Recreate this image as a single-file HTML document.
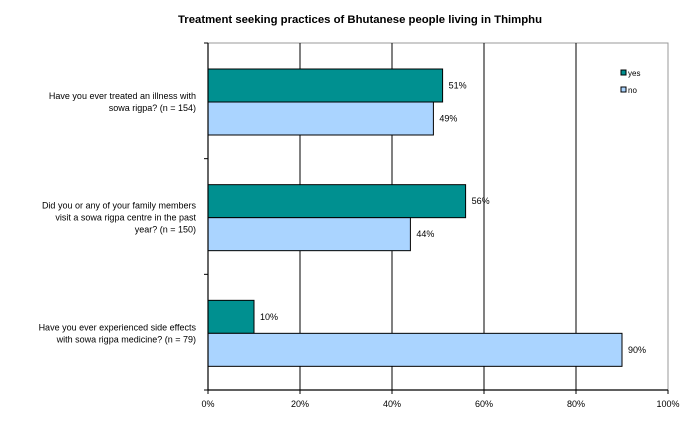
<!DOCTYPE html>
<html><head><meta charset="utf-8"><style>
body{margin:0;background:#fff;font-family:"Liberation Sans",Arial,sans-serif}
svg text{font-family:"Liberation Sans",Arial,sans-serif}
</style></head><body>
<svg id="chart" width="685" height="418" viewBox="0 0 685 418">
<text x="178" y="23" font-size="11" font-weight="bold" fill="#000" textLength="364" lengthAdjust="spacingAndGlyphs">Treatment seeking practices of Bhutanese people living in Thimphu</text>
<g id="grid"></g><g id="bars"></g><g id="axes"></g>
<g>
<rect x="621" y="70" width="5" height="5" fill="#009090" stroke="#000" stroke-width="1"/>
<text x="628" y="76" font-size="8" fill="#000">yes</text>
<rect x="621" y="87" width="5" height="5" fill="#aad4ff" stroke="#000" stroke-width="1"/>
<text x="628" y="93" font-size="8" fill="#000">no</text>
</g>
</svg>
<script>
const categories=[["Have you ever treated an illness with","sowa rigpa? (n = 154)"],["Did you or any of your family members","visit a sowa rigpa centre in the past","year? (n = 150)"],["Have you ever experienced side effects","with sowa rigpa medicine? (n = 79)"]];
const yesValues=[51,56,10];
const noValues=[49,44,90];
const tickValues=[0,20,40,60,80,100];
const NS="http://www.w3.org/2000/svg";
const X0=208,X1=668,Y0=43,Y1=390;
const x=v=>X0+(X1-X0)*v/100;
const bandH=(Y1-Y0)/categories.length;
const band=i=>Y0+i*bandH;
function mk(tag,attrs,parent){const e=document.createElementNS(NS,tag);for(const k in attrs)e.setAttribute(k,attrs[k]);parent.appendChild(e);return e;}
const grid=document.getElementById('grid'),bars=document.getElementById('bars'),axes=document.getElementById('axes');
mk('rect',{x:X0,y:Y0,width:X1-X0,height:Y1-Y0,fill:'none',stroke:'#999','stroke-width':1},grid);
tickValues.forEach(t=>{
 if(t>0&&t<100){const l=mk('line',{x1:x(t),x2:x(t),y1:Y0,y2:Y1,stroke:'#000','stroke-width':1},grid);
 }
 const tk=mk('line',{x1:x(t),x2:x(t),y1:Y1,y2:Y1+4,stroke:'#000'},axes);
 
 const tx=mk('text',{x:x(t),y:Y1+17,'text-anchor':'middle','font-size':'9',fill:'#000'},axes);tx.textContent=t+'%';
 
});
const ax=mk('line',{x1:X0,x2:X0,y1:Y0,y2:Y1,stroke:'#000','stroke-width':1.2},axes);

const bx=mk('line',{x1:X0,x2:X1,y1:Y1,y2:Y1,stroke:'#000','stroke-width':1.2},axes);

for(let i=0;i<=categories.length;i++){const tk=mk('line',{x1:X0-4,x2:X0,y1:band(i),y2:band(i),stroke:'#000'},axes);
 }
const bh=33,off=26;
categories.forEach((c,i)=>{
 const yy=band(i)+off;
 [[yesValues[i],'#009090','yes'],[noValues[i],'#aad4ff','no']].forEach(([v,col,s],j)=>{
  const r=mk('rect',{x:X0,y:yy+j*bh,width:x(v)-X0,height:bh,fill:col,stroke:'#000','stroke-width':1},bars);
  
  const t=mk('text',{x:x(v)+6,y:yy+j*bh+bh/2+3,'font-size':'9',fill:'#000'},bars);t.textContent=v+'%';
  
 });
 const cy=yy+bh, n=c.length, lh=12;
 c.forEach((line,k)=>{const t=mk('text',{x:196,y:cy+3+(k-(n-1)/2)*lh,'text-anchor':'end','font-size':'9',fill:'#000'},axes);t.textContent=line;
  });
});
</script>
</body></html>
